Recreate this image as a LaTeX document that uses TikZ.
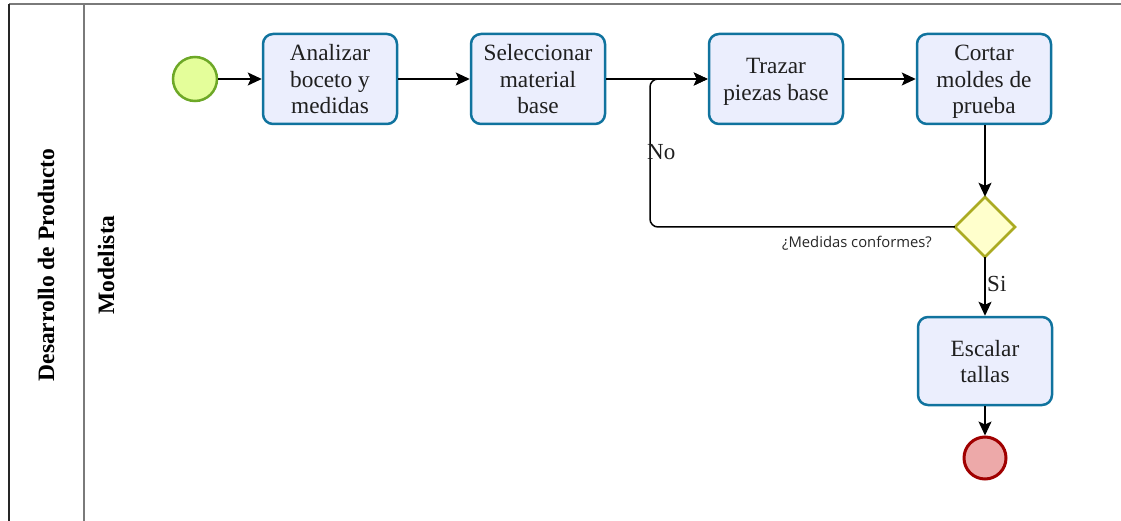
\documentclass[tikz,border=0pt]{standalone}
\usepackage{fontspec}
\setmainfont{Liberation Serif}
\newfontfamily\labelfont{Open Sans}
\usetikzlibrary{arrows.meta}

\definecolor{taskfill}{HTML}{EBEEFD}
\definecolor{taskline}{HTML}{10739E}
\definecolor{startfill}{HTML}{E4FE9A}
\definecolor{startline}{HTML}{6DA827}
\definecolor{gatefill}{HTML}{FFFFCC}
\definecolor{gateline}{HTML}{ABAB22}
\definecolor{endfill}{HTML}{EDA9A9}
\definecolor{endline}{HTML}{A00000}
\definecolor{poolline}{HTML}{7A7A7A}

% fixed top and bottom struts so every task label sits at the same height
\newcommand{\topstrut}{\rule{0pt}{24.5pt}}
\newcommand{\botstrut}{\rule[-8pt]{0pt}{8pt}}

\tikzset{
  task/.style={draw=taskline, fill=taskfill, line width=2.5pt, rounded corners=10pt,
    minimum width=134pt, minimum height=90pt, inner sep=0pt, align=center,
    font=\fontsize{23.3}{26.5}\selectfont, text=black!88},
  startev/.style={circle, draw=startline, fill=startfill, line width=2.5pt,
    minimum size=44pt, inner sep=0pt},
  endev/.style={circle, draw=endline, fill=endfill, line width=3pt,
    minimum size=42pt, inner sep=0pt},
  flow/.style={draw=black, line width=1.5pt,
    -{Stealth[length=14pt,width=13pt,inset=3pt]}},
  lanetitle/.style={font=\bfseries\fontsize{23.5}{26}\selectfont, rotate=90},
  edgetext/.style={font=\fontsize{23}{26}\selectfont, inner sep=0pt, text=black!88}
}

\begin{document}
\begin{tikzpicture}[x=1pt, y=-1pt]
  \useasboundingbox (0,0) rectangle (1121,521);

  % pool and lane frame
  \draw[line width=1.5pt, poolline] (9,4) -- (1121,4);
  \draw[line width=1.5pt, black!85] (9,521) -- (9,4);
  \draw[line width=2pt, poolline] (84,4) -- (84,521);
  \node[lanetitle] (pool) at (46,265) {Desarrollo de Producto};
  \node[lanetitle] (lane) at (106,265) {Modelista};

  % events and activities
  \node[startev] (start) at (195,79) {};
  \node[task] (analizar) at (330,79) {\topstrut Analizar\\boceto y\\medidas\botstrut};
  \node[task] (selec) at (538,79) {\topstrut Seleccionar\\material\\base\botstrut};
  \node[task] (trazar) at (776,79) {\topstrut Trazar\\piezas base\botstrut};
  \node[task] (cortar) at (984,79) {\topstrut Cortar\\moldes de\\prueba\botstrut};
  \path[draw=gateline, fill=gatefill, line width=2.5pt]
    (985,197) -- (1015,227) -- (985,257) -- (955,227) -- cycle;
  \node[inner sep=0pt, minimum size=60pt] (gate) at (985,227) {};
  \node[task, minimum height=88pt] (escalar) at (985,361) {\topstrut Escalar\\tallas\botstrut};
  \node[endev] (end) at (985,458) {};

  \coordinate (back) at (650,79);

  % sequence flows
  \draw[flow] (start) -- (analizar);
  \draw[flow] (analizar) -- (selec);
  \draw[flow] (selec) -- (trazar);
  \draw[flow] (trazar) -- (cortar);
  \draw[flow] (cortar.south -| gate.north) -- (gate.north);
  \draw[flow, rounded corners=8pt] (gate.west) -| (back) -- (trazar.west);
  \draw[flow] (gate.south) -- (escalar.north -| gate.south);
  \draw[flow] (escalar) -- (end);

  % labels
  \node[edgetext, anchor=west] (no) at (647,152) {No};
  \node[edgetext, anchor=west] (si) at (987,284) {Si};
  \node[font=\labelfont\fontsize{14.8}{17}\selectfont, inner sep=0pt, text=black!85]
    (gatelabel) at (857,243) {¿Medidas conformes?};
\end{tikzpicture}
\end{document}
